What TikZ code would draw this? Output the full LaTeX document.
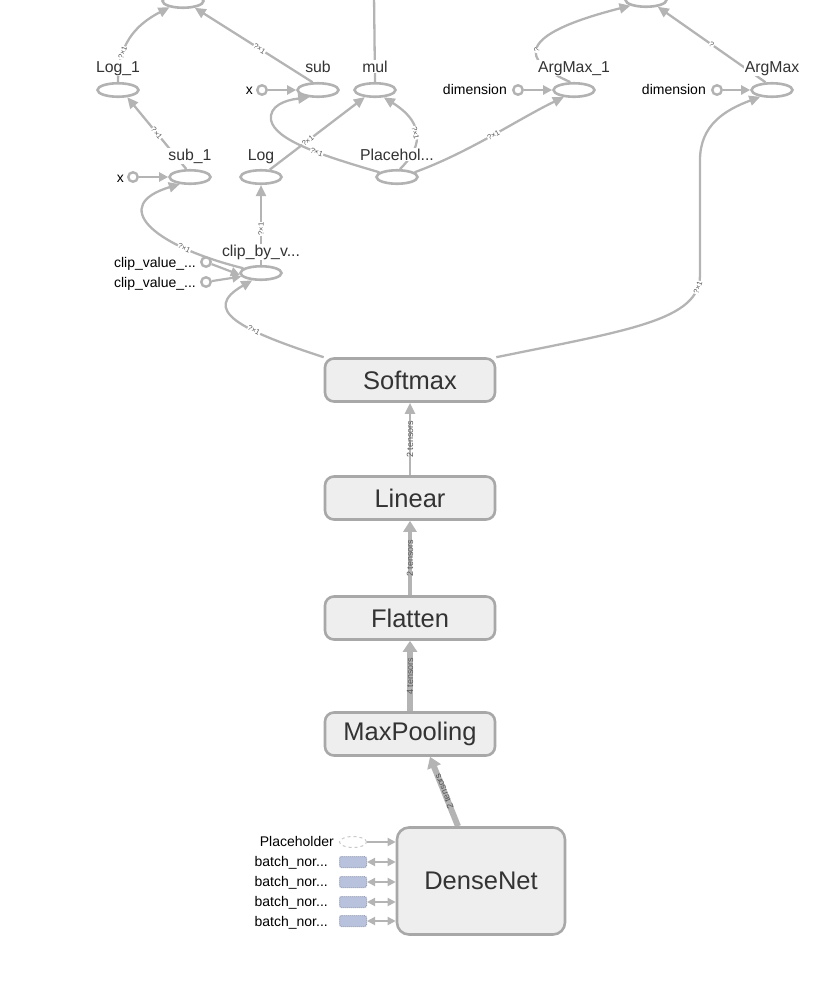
\documentclass[tikz,border=0pt]{standalone}
\usepackage{fontspec}
\setmainfont{Liberation Sans}
\usetikzlibrary{arrows.meta,shapes.geometric,backgrounds}
\definecolor{edgec}{HTML}{B4B4B4}
\definecolor{opc}{HTML}{B2B2B2}
\definecolor{boxb}{HTML}{A8A8A8}
\definecolor{boxf}{HTML}{EEEEEE}
\definecolor{txtc}{HTML}{333333}
\definecolor{elabc}{HTML}{555555}
\definecolor{bnf}{HTML}{B8C2DC}
\definecolor{bnb}{HTML}{8E97B0}
\tikzset{
 ellop/.style={ellipse, draw=opc, line width=2.6pt, fill=white, minimum width=41pt, minimum height=13.5pt, inner sep=0pt},
 oplab/.style={text=txtc, font=\fontsize{15.8}{18}\selectfont, inner sep=1pt, anchor=base},
 cnode/.style={circle, draw=opc, line width=2.4pt, fill=white, minimum size=9.5pt, inner sep=0pt},
 intext/.style={font=\fontsize{14}{16}\selectfont, text=black, anchor=base east, inner sep=0pt},
 opbox/.style={rectangle, rounded corners=9pt, draw=boxb, fill=boxf, line width=2.6pt, minimum width=170pt, minimum height=43pt, font=\fontsize{25.5}{28}\selectfont, text=txtc},
 flow/.style={draw=edgec, line width=2.3pt, -{Triangle[length=11pt,width=10pt]}},
 sflow/.style={draw=edgec, line width=2.2pt, -{Triangle[length=9pt,width=9pt]}},
 elab/.style={font=\fontsize{7.5}{8}\selectfont, text=elabc, sloped, inner sep=0.5pt, fill=white},
 blab/.style={font=\fontsize{9}{10}\selectfont, text=elabc, sloped, inner sep=0.3pt},
}
\begin{document}
\begin{tikzpicture}[x=1pt,y=-1pt]
\useasboundingbox (0,0) rectangle (836,1002);
% ---------- op ellipses ----------
\node[ellop] (t1) at (183,1) {};
\node[ellop] (t2) at (646,0) {};
\node[ellop] (log1) at (118,90) {};
\node[ellop] (sub) at (318,90) {};
\node[ellop] (mul) at (375,90) {};
\node[ellop] (am1) at (574,90) {};
\node[ellop] (am) at (772,90) {};
\node[ellop] (sub1) at (190,177) {};
\node[ellop] (log) at (261,177) {};
\node[ellop] (ph) at (397,177) {};
\node[ellop] (clip) at (261,273) {};
% ---------- constant inputs ----------
\node[cnode] (xsub) at (262,90) {};
\node[cnode] (xsub1) at (133,177) {};
\node[cnode] (dim1) at (518,90) {};
\node[cnode] (dim2) at (717,90) {};
\node[cnode] (cv1) at (206,262) {};
\node[cnode] (cv2) at (206,282) {};
% ---------- boxes ----------
\node[opbox] (softmax) at (410,380) {Softmax};
\node[opbox] (linear) at (410,498) {Linear};
\node[opbox] (flatten) at (410,618) {Flatten};
\node[opbox] (maxpool) at (410,734) {MaxPooling};
\node[opbox, minimum width=168pt, minimum height=107pt, rounded corners=12pt] (dense) at (481,881) {DenseNet};
% ---------- DenseNet inputs ----------
\node[ellipse, draw=opc!70, dashed, line width=1pt, fill=white, minimum width=27pt, minimum height=11pt, inner sep=0pt] (phin) at (353,842) {};
\foreach \i/\y in {1/862,2/882,3/902,4/921}{
  \node[rectangle, rounded corners=2pt, draw=bnb, densely dotted, line width=1pt, fill=bnf, minimum width=27pt, minimum height=11pt, inner sep=0pt] (bn\i) at (353,\y) {};
}
% ---------- labels ----------
\node[oplab, fill=white] (log1l) at (118,72) {Log\_1};
\node[oplab, fill=white] (subl) at (318,72) {sub};
\node[oplab, fill=white] (mull) at (375,72) {mul};
\node[oplab, fill=white] (am1l) at (574,72) {ArgMax\_1};
\node[oplab, fill=white] (aml) at (772,72) {ArgMax};
\node[oplab, fill=white] (sub1l) at (190,160) {sub\_1};
\node[oplab, fill=white] (logl) at (261,160) {Log};
\node[oplab, fill=white] (phl) at (397,160) {Placehol...};
\node[oplab, fill=white] (clipl) at (261,256) {clip\_by\_v...};
\node[intext] (xsubt) at (253,94) {x};
\node[intext] (xsub1t) at (124,182) {x};
\node[intext] (dim1t) at (507,94) {dimension};
\node[intext] (dim2t) at (706,94) {dimension};
\node[intext] (cv1t) at (196,267) {clip\_value\_...};
\node[intext] (cv2t) at (196,287) {clip\_value\_...};
\node[intext] (phint) at (334,846) {Placeholder};
\foreach \i/\y in {1/866,2/886,3/906,4/926}{
  \node[intext] (bn\i t) at (328,\y) {batch\_nor...};
}
\coordinate (mulout) at (374,-6);
% ---------- edges ----------
\begin{pgfonlayer}{background}
\draw[flow] (log1.north) .. controls (118,45) and (135,25) .. node[elab, pos=0.3]{?×1} (t1.205);
\draw[flow] (sub.125) -- node[elab, pos=0.45]{?×1} (t1.-30);
\draw[flow] (sub1.115) -- node[elab]{?×1} (log1.-38);
\draw[sflow] (xsub) -- (sub);
\draw[sflow] (xsub1) -- (sub1);
\draw[sflow] (dim1) -- (am1);
\draw[sflow] (dim2) -- (am);
\draw[sflow] (cv1) -- (clip.185);
\draw[sflow] (cv2) -- (clip.190);
\draw[flow] (clip.north) -- node[elab, pos=0.45]{?×1} (log.south);
\draw[flow] (clip.165) .. controls (150,245) and (110,205) .. node[elab, pos=0.25]{?×1} (sub1.215);
\draw[flow] (softmax.north west) .. controls (240,330) and (200,310) .. node[elab, pos=0.35]{?×1} (clip.220);
\draw[flow] (softmax.north east) .. controls (630,330) and (700,320) .. node[elab, pos=0.9]{?×1} (700,275) -- (700,160) .. controls (700,125) and (725,110) .. (am.210);
\draw[flow] (log.40) -- node[elab, pos=0.4]{?×1} (mul.215);
\draw[flow] (ph.165) .. controls (320,155) and (275,140) .. node[elab, pos=0.4]{?×1} (271,120) .. controls (269,106) and (285,100) .. (sub.220);
\draw[flow] (ph.70) .. controls (420,150) and (428,125) .. node[elab, pos=0.55]{?×1} (mul.320);
\draw[flow] (ph.15) .. controls (470,152) and (520,118) .. node[elab, pos=0.5]{?×1} (am1.215);
\draw[flow] (am1.115) .. controls (520,60) and (515,35) .. node[elab, pos=0.45]{?} (t2.200);
\draw[flow] (am.130) -- node[elab, pos=0.5]{?} (t2.-30);
\draw[draw=edgec, line width=2.3pt] (mul.north) -- (mulout);
% box edges
\draw[draw=edgec, line width=2.3pt, -{Triangle[length=11pt,width=10pt]}] (linear.north) -- node[blab, pos=0.5]{2 tensors} (softmax.south);
\draw[draw=edgec, line width=4.5pt, -{Triangle[length=11pt,width=13pt]}] (flatten.north) -- node[blab, pos=0.5]{2 tensors} (linear.south);
\draw[draw=edgec, line width=5.5pt, -{Triangle[length=11pt,width=14pt]}] (maxpool.north) -- node[blab, pos=0.5]{4 tensors} (flatten.south);
\draw[draw=edgec, line width=6pt, -{Triangle[length=11pt,width=14pt]}] ([xshift=-23pt]dense.north) -- node[blab, pos=0.5, allow upside down]{2 tensors} ([xshift=20pt]maxpool.south);
% DenseNet inputs
\draw[draw=edgec, line width=1.8pt, -{Triangle[length=8pt,width=8pt]}] (phin) -- (phin -| dense.west);
\foreach \i in {1,2,3,4}{
  \draw[draw=edgec, line width=1.8pt, {Triangle[length=8pt,width=8pt]}-{Triangle[length=8pt,width=8pt]}] (bn\i) -- (bn\i -| dense.west);
}
\end{pgfonlayer}
\end{tikzpicture}
\end{document}
